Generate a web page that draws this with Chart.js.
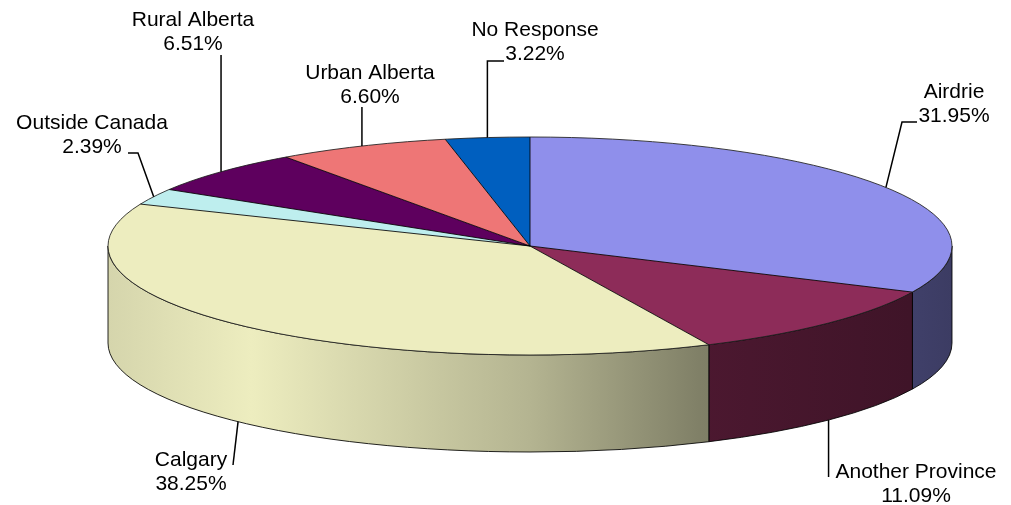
<!DOCTYPE html>
<html>
<head>
<meta charset="utf-8">
<script src="https://cdn.jsdelivr.net/npm/chart.js@4.4.0/dist/chart.umd.min.js"></script>
<style>
  html, body { margin: 0; padding: 0; background: #fff; }
  #wrap { width: 1011px; height: 505px; }
</style>
</head>
<body>
<div id="wrap"><canvas id="pie" width="1011" height="505"></canvas></div>
<script>
/* Pie 3D: origen de los encuestados */
const categories = ['Airdrie', 'Another Province', 'Calgary', 'Outside Canada', 'Rural Alberta', 'Urban Alberta', 'No Response'];
const shares = [31.95, 11.09, 38.25, 2.39, 6.51, 6.60, 3.22];
const colors = ['#8F8FEB', '#8D2C59', '#EDEDBF', '#BEEEEE', '#5E005E', '#EE7676', '#005FBF'];

// forma del disco
const RX = 422, RY = 109, DEPTH = 97;
// sombreado horizontal del canto (posición 0..1, factor de brillo)
const SHADE = [[0, 0.9], [0.17, 1.0], [0.39, 0.84], [0.5, 0.76], [0.7, 0.54], [0.95, 0.45], [1, 0.42]];

// bloque de texto (centro x, línea 1 y) y codos de la línea guía; null = x del borde
const labelPos = [
  { x: 954, y: 92, leader: [[917, 122], [902, 122]] },
  { x: 916, y: 472, leader: [[null, 477]] },
  { x: 191, y: 460, leader: [[233, 465]] },
  { x: 92, y: 123, leader: [[128, 153], [138, 153]] },
  { x: 193, y: 20, leader: [[null, 55]] },
  { x: 370, y: 73, leader: [[null, 107]] },
  { x: 535, y: 30, leader: [[504, 61], [null, 61]] },
];

function shade(hex, f) {
  const n = parseInt(hex.slice(1), 16);
  const c = [(n >> 16) & 255, (n >> 8) & 255, n & 255].map(v => Math.min(255, Math.round(v * f)));
  return `rgb(${c[0]},${c[1]},${c[2]})`;
}

const disc3d = {
  id: 'disc3d',
  beforeDatasetsDraw(chart) {
    const ctx = chart.ctx;
    const arcs = chart.getDatasetMeta(0).data;
    const cx = arcs[0].x, cy = arcs[0].y, R = arcs[0].outerRadius;
    arcs.forEach((arc, i) => {
      const s = arc.startAngle, e = arc.endAngle;
      [[0, Math.PI], [2 * Math.PI, 3 * Math.PI]].forEach(([lo, hi]) => {
        const a0 = Math.max(s, lo), a1 = Math.min(e, hi);
        if (a1 <= a0) return;
        ctx.beginPath();
        ctx.ellipse(cx, cy, RX, RY, 0, a0, a1);
        ctx.ellipse(cx, cy + DEPTH, RX, RY, 0, a1, a0, true);
        ctx.closePath();
        const g = ctx.createLinearGradient(cx - RX, 0, cx + RX, 0);
        SHADE.forEach(([t, f]) => g.addColorStop(t, shade(colors[i], f)));
        ctx.fillStyle = g;
        ctx.fill();
        ctx.strokeStyle = 'rgba(0,0,0,0.85)';
        ctx.lineWidth = 1;
        ctx.stroke();
      });
    });
    ctx.save();
    ctx.translate(cx, cy);
    ctx.scale(RX / R, RY / R);
    ctx.translate(-cx, -cy);
  },
  afterDatasetsDraw(chart) {
    const ctx = chart.ctx;
    ctx.restore();
    const arcs = chart.getDatasetMeta(0).data;
    const cx = arcs[0].x, cy = arcs[0].y;

    // bordes de la cara superior
    ctx.save();
    ctx.strokeStyle = 'rgba(0,0,0,0.85)';
    ctx.lineWidth = 1;
    arcs.forEach(arc => {
      ctx.beginPath();
      ctx.moveTo(cx, cy);
      ctx.lineTo(cx + RX * Math.cos(arc.startAngle), cy + RY * Math.sin(arc.startAngle));
      ctx.stroke();
    });
    ctx.strokeStyle = 'rgba(30,30,30,0.85)';
    ctx.beginPath();
    ctx.ellipse(cx, cy, RX, RY, 0, 0, 2 * Math.PI);
    ctx.stroke();

    // etiquetas con guías
    ctx.font = '21px "Liberation Sans", Arial, sans-serif';
    ctx.textAlign = 'center';
    ctx.textBaseline = 'middle';
    arcs.forEach((arc, i) => {
      const m = (arc.startAngle + arc.endAngle) / 2;
      const front = Math.sin(m) > 0;
      const rx = cx + RX * Math.cos(m);
      const ry = cy + RY * Math.sin(m) + (front ? DEPTH : 0);
      const lp = labelPos[i];
      ctx.strokeStyle = '#000';
      ctx.lineWidth = 1.5;
      ctx.beginPath();
      lp.leader.forEach(([px, py], k) => {
        const x = px == null ? rx : px;
        if (k === 0) ctx.moveTo(x, py); else ctx.lineTo(x, py);
      });
      ctx.lineTo(rx, ry);
      ctx.stroke();
      ctx.fillStyle = '#000';
      ctx.fillText(categories[i], lp.x, lp.y);
      ctx.fillText(shares[i].toFixed(2) + '%', lp.x, lp.y + 24);
    });
    ctx.restore();
  }
};

new Chart(document.getElementById('pie'), {
  type: 'pie',
  data: {
    labels: categories,
    datasets: [{ data: shares, backgroundColor: colors, borderWidth: 0, hoverOffset: 0 }],
  },
  options: {
    responsive: false,
    animation: false,
    events: [],
    layout: { padding: { left: 49, right: 0, top: 0, bottom: 13 } },
    plugins: { legend: { display: false }, tooltip: { enabled: false } },
  },
  plugins: [disc3d],
});
</script>
</body>
</html>
